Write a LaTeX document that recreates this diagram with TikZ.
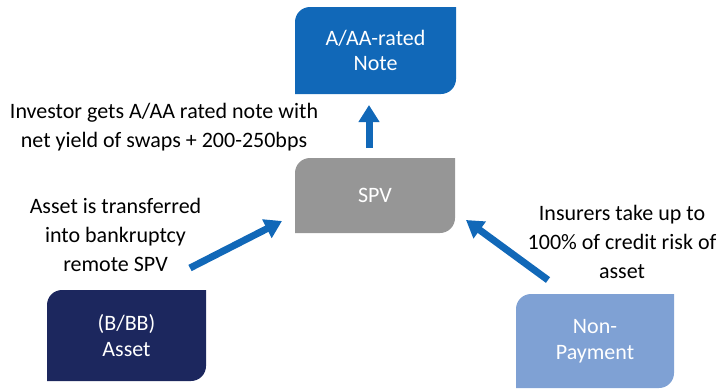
\documentclass[tikz,border=0pt]{standalone}
\usepackage{fontspec}
\setmainfont{Carlito}
\usetikzlibrary{arrows.meta,backgrounds}
\definecolor{noteblue}{RGB}{17,104,184}
\definecolor{assetnavy}{RGB}{28,39,94}
\definecolor{spvgray}{RGB}{150,150,150}
\definecolor{paylight}{RGB}{127,161,212}
\definecolor{arrowblue}{RGB}{17,104,184}
\newcommand\snipfill[2]{\fill[#2] (#1.south west) -- ([yshift=-15pt]#1.north west) arc[start angle=180,end angle=90,radius=15pt] -- (#1.north east) -- ([yshift=15pt]#1.south east) arc[start angle=0,end angle=-90,radius=15pt] -- cycle;}
\begin{document}
\begin{tikzpicture}[x=1pt,y=-1pt,
  boxtext/.style={text=white,font=\fontsize{22}{25.5}\selectfont,align=center,inner sep=0pt,outer sep=0pt},
  plain/.style={text=black,font=\fontsize{22}{29}\selectfont,align=center,inner sep=0pt,outer sep=0pt},
  flow/.style={draw=arrowblue,line width=7pt,-{Triangle[width=20pt,length=17pt]}}]
\useasboundingbox (0,0) rectangle (719,389);
\node[boxtext,minimum width=161pt,minimum height=87pt] (note) at (375.5,50.5) {A/AA-rated\\Note};
\node[boxtext,minimum width=160pt,minimum height=75pt] (spv) at (375,195.5) {SPV};
\node[boxtext,minimum width=159pt,minimum height=91pt] (asset) at (126.5,335.5) {\raisebox{-3pt}{(B/BB)}\\\raisebox{-3pt}{Asset}};
\node[boxtext,minimum width=158pt,minimum height=94pt] (nonpay) at (595,341) {Non-\\Payment};
\begin{scope}[on background layer]
\snipfill{note}{noteblue}
\snipfill{spv}{spvgray}
\snipfill{asset}{assetnavy}
\snipfill{nonpay}{paylight}
\end{scope}
\node[plain] (investor) at (164,127.5) {Investor gets A/AA rated note with\\net yield of swaps + 200-250bps};
\node[plain] (transfer) at (115.5,235) {Asset is transferred\\into bankruptcy\\remote SPV};
\node[plain] (insurers) at (622,242) {Insurers take up to\\100\% of credit risk of\\asset};
\draw[flow] ([shift={(-6,-10)}]spv.north) -- ([shift={(-6.5,11)}]note.south);
\draw[flow] ([shift={(-16,-22)}]asset.north east) -- ([shift={(-13,-12)}]spv.south west);
\draw[flow] ([shift={(32,-14)}]nonpay.north west) -- ([shift={(11,-13)}]spv.south east);
\end{tikzpicture}
\end{document}
